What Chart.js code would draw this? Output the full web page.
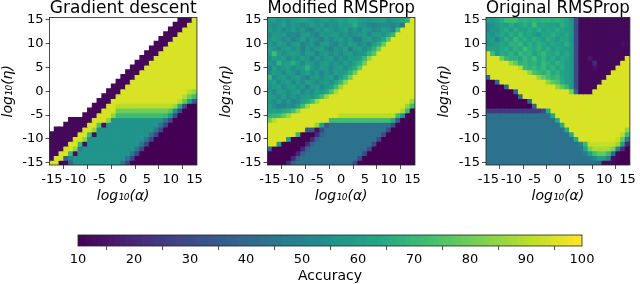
<!DOCTYPE html>
<html>
<head>
<meta charset="utf-8">
<script src="https://cdn.jsdelivr.net/npm/chart.js@4"></script>
<style>
  html, body { margin: 0; padding: 0; background: #fff; overflow: hidden; width: 640px; height: 284px; }
  canvas { position: absolute; }
</style>
</head>
<body>
<canvas id="gdChart" width="207" height="206" style="left:0;top:0"></canvas>
<canvas id="modChart" width="207" height="206" style="left:218px;top:0"></canvas>
<canvas id="origChart" width="204" height="206" style="left:436px;top:0"></canvas>
<canvas id="barChart" width="560" height="58" style="left:50px;top:226px"></canvas>
<script>
const _ = null;
const alphaLevels = [-15,-14,-13,-12,-11,-10,-9,-8,-7,-6,-5,-4,-3,-2,-1,0,1,2,3,4,5,6,7,8,9,10,11,12,13,14,15];
const etaLevels = [15,14,13,12,11,10,9,8,7,6,5,4,3,2,1,0,-1,-2,-3,-4,-5,-6,-7,-8,-9,-10,-11,-12,-13,-14,-15];
const tickValues = [-15,-10,-5,0,5,10,15];
const barTicks = [10,20,30,40,50,60,70,80,90,100];
const barLevels = [10,11,12,13,14,15,16,17,18,19,20,21,22,23,24,25,26,27,28,29,30,31,32,33,34,35,36,37,38,39,40,41,42,43,44,45,46,47,48,49,50,51,52,53,54,55,56,57,58,59,60,61,62,63,64,65,66,67,68,69,70,71,72,73,74,75,76,77,78,79,80,81,82,83,84,85,86,87,88,89,90,91,92,93,94,95,96,97,98,99,100];

// accuracy per cell, rows run from eta=15 down to eta=-15
const gradientDescent = [
[_,_,_,_,_,_,_,_,_,_,_,_,_,_,_,_,_,_,_,_,_,_,_,_,_,_,_,12,12,12,95],
[_,_,_,_,_,_,_,_,_,_,_,_,_,_,_,_,_,_,_,_,_,_,_,_,_,_,12,12,12,95,95],
[_,_,_,_,_,_,_,_,_,_,_,_,_,_,_,_,_,_,_,_,_,_,_,_,_,12,12,12,95,95,95],
[_,_,_,_,_,_,_,_,_,_,_,_,_,_,_,_,_,_,_,_,_,_,_,_,12,12,12,95,95,95,95],
[_,_,_,_,_,_,_,_,_,_,_,_,_,_,_,_,_,_,_,_,_,_,_,12,12,12,95,95,95,95,95],
[_,_,_,_,_,_,_,_,_,_,_,_,_,_,_,_,_,_,_,_,_,_,12,12,12,95,95,95,95,95,95],
[_,_,_,_,_,_,_,_,_,_,_,_,_,_,_,_,_,_,_,_,_,12,12,12,95,95,95,95,95,95,95],
[_,_,_,_,_,_,_,_,_,_,_,_,_,_,_,_,_,_,_,_,12,12,12,95,95,95,95,95,95,95,95],
[_,_,_,_,_,_,_,_,_,_,_,_,_,_,_,_,_,_,_,12,12,12,95,95,95,95,95,95,95,95,95],
[_,_,_,_,_,_,_,_,_,_,_,_,_,_,_,_,_,_,12,12,12,95,95,95,95,95,95,95,95,95,95],
[_,_,_,_,_,_,_,_,_,_,_,_,_,_,_,_,_,12,12,12,95,95,95,95,95,95,95,95,95,95,95],
[_,_,_,_,_,_,_,_,_,_,_,_,_,_,_,_,12,12,12,95,95,95,95,95,95,95,95,95,95,95,95],
[_,_,_,_,_,_,_,_,_,_,_,_,_,_,_,12,12,12,95,95,95,95,95,95,95,95,95,95,95,95,95],
[_,_,_,_,_,_,_,_,_,_,_,_,_,_,12,12,12,95,95,95,95,95,95,95,95,95,95,95,95,95,95],
[_,_,_,_,_,_,_,_,_,_,_,_,_,12,12,12,95,95,95,95,95,95,95,95,95,95,95,95,95,95,95],
[_,_,_,_,_,_,_,_,_,_,_,_,12,12,12,95,95,95,95,95,95,95,95,95,95,95,95,95,95,90,85],
[_,_,_,_,_,_,_,_,_,_,_,12,12,12,95,95,95,95,95,95,95,95,95,95,95,95,95,95,90,80,72],
[_,_,_,_,_,_,_,_,_,_,12,12,12,95,95,95,95,95,95,95,95,95,95,95,95,95,95,90,78,62,35],
[_,_,_,_,_,_,_,_,_,12,12,12,95,95,90,90,90,90,90,90,90,90,90,90,90,90,85,65,30,10,10],
[_,_,_,_,_,_,_,_,12,12,12,95,95,95,80,80,80,80,80,80,80,80,80,80,80,75,55,30,10,10,10],
[_,_,_,_,_,_,_,12,12,12,95,95,95,85,72,72,72,72,72,72,72,72,72,72,70,58,30,10,10,10,10],
[_,_,_,_,12,12,12,12,12,95,95,95,85,56,56,56,56,56,56,56,56,56,56,56,45,28,10,10,10,10,10],
[_,_,_,12,12,12,12,12,95,95,75,14,56,56,56,56,56,56,56,56,56,56,56,45,28,10,10,10,10,10,10],
[_,12,12,12,12,12,12,95,95,85,55,56,56,56,56,56,56,56,56,56,56,56,45,28,10,10,10,10,10,10,10],
[12,12,12,12,12,12,95,95,70,14,56,56,56,56,56,56,56,56,56,56,56,45,28,10,10,10,10,10,10,10,10],
[12,12,12,12,12,95,95,85,55,56,56,56,56,56,56,56,56,56,56,56,45,28,10,10,10,10,10,10,10,10,10],
[12,12,12,12,95,95,70,14,56,56,56,56,56,56,56,56,56,56,56,45,28,10,10,10,10,10,10,10,10,10,10],
[12,12,12,95,95,85,50,56,56,56,56,56,56,56,56,56,56,56,45,28,10,10,10,10,10,10,10,10,10,10,10],
[12,12,95,95,70,14,56,56,56,56,56,56,56,56,56,56,56,45,28,10,10,10,10,10,10,10,10,10,10,10,10],
[12,95,95,38,50,56,56,56,56,56,56,56,56,56,56,56,45,28,10,10,10,10,10,10,10,10,10,10,10,10,10],
[95,95,10,12,40,56,56,56,56,56,56,56,56,56,56,45,28,10,10,10,10,10,10,10,10,10,10,10,10,10,10]
];

const modifiedRmsprop = [
[58,60,55,58,54,58,60,62,60,58,55,58,60,56,58,62,60,64,64,60,58,56,58,60,60,55,58,60,62,66,95],
[56,54,56,60,54,58,55,52,56,60,55,58,52,56,55,60,58,60,66,58,55,52,50,52,54,52,50,54,46,95,95],
[58,55,58,52,56,60,54,58,52,50,58,55,60,58,54,58,60,54,58,52,60,56,52,54,60,56,50,72,95,95,95],
[52,58,56,60,52,54,50,58,60,54,50,58,56,58,60,54,58,52,55,58,60,52,58,60,56,62,70,95,95,95,95],
[55,60,58,52,58,50,54,60,52,58,54,50,58,52,58,60,54,58,50,50,58,60,54,56,64,76,95,95,95,95,95],
[58,54,60,58,52,58,60,50,54,58,50,58,60,54,50,58,54,60,58,52,56,50,60,66,78,95,95,95,95,95,95],
[60,58,52,58,60,54,58,50,58,52,58,60,54,50,58,54,60,50,58,60,54,60,68,80,95,95,95,95,95,95,95],
[58,72,60,54,58,60,58,52,60,58,50,58,60,54,58,52,58,60,54,56,58,68,76,95,95,95,95,95,95,95,95],
[54,60,58,60,52,58,54,60,58,50,58,54,58,60,52,58,54,60,58,60,70,84,95,95,95,95,95,95,95,95,95],
[58,54,68,58,60,66,58,54,60,58,52,58,60,54,58,54,60,56,62,68,80,95,95,95,95,95,95,95,95,95,95],
[50,60,54,58,60,54,58,60,68,58,54,60,58,52,58,60,54,60,66,78,95,95,95,95,95,95,95,95,95,95,95],
[54,60,58,52,60,58,50,58,60,54,58,50,58,54,60,58,60,68,80,95,95,95,95,95,95,95,95,95,95,95,95],
[70,54,58,60,54,58,60,54,50,58,60,54,58,60,52,60,68,80,95,95,95,95,95,95,95,95,95,95,95,95,95],
[58,60,54,58,60,52,58,54,60,58,52,58,60,54,62,70,84,95,95,95,95,95,95,95,95,95,95,95,95,95,95],
[54,58,60,52,58,60,54,58,50,58,60,54,58,62,72,86,95,95,95,95,95,95,95,95,95,95,95,95,95,95,95],
[58,52,60,58,54,58,60,52,58,54,60,58,64,74,88,95,95,95,95,95,95,95,95,95,95,95,95,95,95,95,95],
[60,58,54,60,52,58,54,58,60,58,64,72,86,95,95,95,95,95,95,95,95,95,95,95,95,95,95,95,95,95,95],
[58,54,60,52,58,50,54,60,64,72,86,95,95,95,95,95,95,95,95,95,95,95,95,95,95,95,95,95,95,95,85],
[60,54,50,50,54,52,60,72,86,95,95,95,95,95,95,95,95,95,95,95,95,95,95,95,95,95,95,95,95,85,72],
[60,62,60,64,66,72,84,95,95,95,95,95,95,95,95,95,95,95,95,95,95,95,95,95,95,95,95,95,88,72,10],
[68,70,72,78,86,95,95,95,95,95,95,95,95,95,95,90,90,90,90,90,90,90,90,90,90,90,90,72,55,10,10],
[80,90,95,95,95,95,95,95,95,95,95,95,95,72,72,72,72,72,72,72,72,72,72,72,72,72,65,35,10,10,10],
[95,95,95,95,95,95,95,95,95,95,85,60,35,44,44,44,44,44,44,44,44,44,44,44,44,44,30,10,10,10,10],
[95,95,95,95,95,95,95,95,36,36,14,30,44,44,44,44,44,44,44,44,44,44,44,44,44,30,10,10,10,10,10],
[95,95,95,95,95,95,70,10,10,10,20,38,44,44,44,44,44,44,44,44,44,44,44,44,30,10,10,10,10,10,10],
[95,95,95,95,60,10,10,10,10,20,38,44,44,44,44,44,44,44,44,44,44,44,44,30,10,10,10,10,10,10,10],
[95,95,60,10,10,10,10,10,20,38,44,44,44,44,44,44,44,44,44,44,44,44,30,10,10,10,10,10,10,10,10],
[42,10,10,10,10,10,10,20,38,44,44,44,44,44,44,44,44,44,44,44,44,30,10,10,10,10,10,10,10,10,10],
[10,10,10,10,10,10,20,38,44,44,44,44,44,44,44,44,44,44,44,44,30,10,10,10,10,10,10,10,10,10,10],
[10,10,10,10,10,20,38,44,44,44,44,44,44,44,44,44,44,44,44,30,10,10,10,10,10,10,10,10,10,10,10],
[10,10,10,10,20,38,44,44,44,44,44,44,44,44,44,44,44,44,30,10,10,10,10,10,10,10,10,10,10,10,10]
];

const originalRmsprop = [
[60,58,62,65,72,72,72,66,68,66,68,66,68,68,66,68,66,64,58,30,12,12,12,12,12,12,12,12,12,12,12],
[54,55,58,62,60,65,60,62,66,62,72,62,64,60,62,60,66,62,58,30,12,12,12,12,12,12,12,12,12,12,12],
[52,58,56,62,66,60,66,62,60,65,62,66,60,64,62,66,62,60,58,30,12,12,12,12,12,12,12,12,12,12,12],
[58,55,60,64,60,66,62,68,62,64,60,56,64,62,66,62,60,64,58,30,12,12,12,12,12,12,12,12,12,12,12],
[56,60,50,60,66,62,70,64,66,62,66,64,60,66,62,58,64,62,56,30,12,12,12,12,12,12,12,12,12,12,12],
[56,58,60,64,62,68,66,70,62,66,62,68,64,60,64,62,60,66,58,30,12,12,12,12,12,12,12,12,12,14,12],
[60,62,60,64,66,62,68,64,72,66,64,68,62,66,60,64,62,60,58,30,12,12,12,12,12,12,12,12,12,12,12],
[95,72,60,66,64,68,62,70,66,68,62,66,70,64,62,66,60,64,58,30,12,12,12,12,12,12,12,12,12,12,12],
[95,95,95,80,70,66,68,64,70,66,72,64,68,62,66,60,64,62,58,30,12,12,16,12,12,12,12,12,12,12,95],
[95,95,95,95,95,85,78,68,70,66,68,64,70,66,62,68,64,60,58,30,12,12,12,20,12,12,12,12,12,95,95],
[95,95,95,95,95,95,95,90,72,68,70,66,70,64,68,62,66,60,58,30,12,12,12,15,12,12,12,12,95,95,95],
[95,95,95,95,95,95,95,95,95,85,74,70,66,72,64,68,62,60,58,30,12,12,12,12,12,12,12,95,95,95,95],
[40,95,95,95,95,95,95,95,95,95,95,85,78,72,68,70,64,60,58,30,12,12,12,12,12,12,95,95,95,95,95],
[10,10,40,95,95,95,95,95,95,95,95,95,95,85,78,74,66,60,58,30,12,12,12,12,12,95,95,95,95,95,95],
[10,10,10,10,40,95,95,95,95,95,95,95,95,95,95,85,78,70,58,30,12,12,12,12,95,95,95,95,95,95,95],
[10,10,10,10,10,10,40,95,95,95,95,95,95,95,95,95,95,95,82,38,12,12,12,95,95,95,95,95,95,95,95],
[10,10,10,10,10,10,10,40,95,95,95,95,95,95,95,95,95,95,95,95,95,95,95,95,95,95,95,95,95,95,95],
[10,10,10,10,10,10,10,10,10,40,95,95,95,95,95,95,95,95,95,95,95,95,95,95,95,95,95,95,95,95,95],
[10,10,10,10,10,10,10,10,10,10,40,95,95,95,95,95,95,95,95,95,95,95,95,95,95,95,95,95,95,95,95],
[25,25,25,25,25,25,25,25,25,25,25,25,30,65,95,95,95,95,95,95,95,95,95,95,95,95,95,95,95,95,95],
[44,44,44,44,44,44,44,44,44,44,44,44,44,44,65,95,95,95,95,95,95,95,95,95,95,95,95,95,95,95,95],
[44,44,44,44,44,44,44,44,44,44,44,44,44,44,44,65,95,95,95,95,95,95,95,95,95,95,95,95,95,95,95],
[44,44,44,44,44,44,44,44,44,44,44,44,44,44,44,44,65,95,95,95,95,95,95,95,95,95,95,95,95,95,95],
[44,44,44,44,44,44,44,44,44,44,44,44,44,44,44,44,44,65,95,95,95,95,95,95,95,95,95,95,95,95,85],
[44,44,44,44,44,44,44,44,44,44,44,44,44,44,44,44,44,44,65,95,95,95,95,95,95,95,95,95,95,90,72],
[44,44,44,44,44,44,44,44,44,44,44,44,44,44,44,44,44,44,44,65,95,95,95,95,95,95,95,95,92,78,48],
[44,44,44,44,44,44,44,44,44,44,44,44,44,44,44,44,44,44,44,44,50,70,92,92,92,92,92,92,86,62,20],
[44,44,44,44,44,44,44,44,44,44,44,44,44,44,44,44,44,44,44,44,46,62,82,88,88,88,88,82,50,22,10],
[44,44,44,44,44,44,44,44,44,44,44,44,44,44,44,44,44,44,44,44,44,48,60,72,78,78,70,42,12,10,10],
[44,44,44,44,44,44,44,44,44,44,44,44,44,44,44,44,44,44,44,44,44,44,46,52,60,60,50,14,12,10,10],
[44,44,44,44,44,44,44,44,44,44,44,44,44,44,44,44,44,44,44,44,44,44,44,44,40,12,13,12,10,10,10]
];

const viridis = ['#440154','#482475','#414487','#355f8d','#2a788e','#21918c','#22a884','#44bf70','#7ad151','#bddf26','#fde725'];

function accuracyColor(v) {
  const t = Math.min(Math.max((v - 10) / 90, 0), 1) * 10;
  const i = Math.min(Math.floor(t), 9);
  const f = t - i;
  const a = parseInt(viridis[i].slice(1), 16);
  const b = parseInt(viridis[i + 1].slice(1), 16);
  const mix = s => Math.round(((a >> s) & 255) * (1 - f) + ((b >> s) & 255) * f);
  return 'rgb(' + mix(16) + ',' + mix(8) + ',' + mix(0) + ')';
}

// black box round the plot, on all four sides
const framePlugin = {
  id: 'frame',
  afterDatasetsDraw(chart) {
    const a = chart.chartArea;
    const ctx = chart.ctx;
    ctx.save();
    ctx.strokeStyle = '#222';
    ctx.lineWidth = 0.8;
    ctx.strokeRect(a.left, a.top, a.right - a.left, a.bottom - a.top);
    ctx.restore();
  }
};

const fontFamily = '"DejaVu Sans"';
const axisTitleFont = { family: fontFamily, size: 14, style: 'italic', lineHeight: 1 };
const tickFont = { family: fontFamily, size: 13, lineHeight: 1 };
const tickGrid = { display: true, drawOnChartArea: false, drawTicks: true, tickLength: 4, color: '#222', lineWidth: 0.8 };

function axisTicks(values) {
  return axis => { axis.ticks = values.map(v => ({ value: v })); };
}

function heatmap(id, title, rows, axisWidth, rightPad) {
  const datasets = rows.map((row, r) => {
    const cells = [];
    const colors = [];
    row.forEach((v, c) => {
      if (v === null) return;
      cells.push({ x: alphaLevels[c], y: [etaLevels[r] - 0.5, etaLevels[r] + 0.5] });
      colors.push(accuracyColor(v));
    });
    return { data: cells, backgroundColor: colors, barPercentage: 1, categoryPercentage: 1, grouped: false, inflateAmount: 0.5 };
  });
  return new Chart(document.getElementById(id).getContext('2d'), {
    type: 'bar',
    data: { datasets },
    plugins: [framePlugin],
    options: {
      responsive: false,
      animation: false,
      layout: { padding: { right: rightPad, left: 0, top: 0, bottom: 0 } },
      plugins: {
        legend: { display: false },
        tooltip: { enabled: false },
        title: {
          display: true,
          fullSize: false,
          text: title,
          color: '#000',
          font: { family: fontFamily, size: 17, weight: 'normal', lineHeight: 1 },
          padding: { top: 0, bottom: 0.5 }
        }
      },
      scales: {
        x: {
          type: 'linear',
          offset: false,
          min: -15.5,
          max: 15.5,
          grid: tickGrid,
          border: { display: false },
          afterBuildTicks: axisTicks(tickValues),
          afterFit: axis => { axis.height = 41; },
          ticks: { font: tickFont, color: '#000', padding: 4, maxRotation: 0, autoSkip: false, callback: v => String(v) },
          title: { display: true, text: 'log₁₀(α)', color: '#000', font: axisTitleFont, padding: { top: 0, bottom: 3 } }
        },
        y: {
          type: 'linear',
          min: -15.5,
          max: 15.5,
          grid: tickGrid,
          border: { display: false },
          afterBuildTicks: axisTicks(tickValues),
          afterFit: axis => { axis.width = axisWidth; },
          ticks: { font: tickFont, color: '#000', padding: 2, autoSkip: false, callback: v => String(v) },
          title: { display: true, text: 'log₁₀(η)', color: '#000', font: axisTitleFont, padding: { top: 1, bottom: 0 } }
        }
      }
    }
  });
}

heatmap('gdChart', 'Gradient descent', gradientDescent, 49.5, 10);
heatmap('modChart', 'Modified RMSProp', modifiedRmsprop, 49.5, 10);
heatmap('origChart', 'Original RMSProp', originalRmsprop, 50, 6);

new Chart(document.getElementById('barChart').getContext('2d'), {
  type: 'bar',
  data: {
    datasets: [{
      data: barLevels.map(v => ({ x: v, y: [0, 1] })),
      backgroundColor: barLevels.map(accuracyColor),
      barPercentage: 1,
      categoryPercentage: 1,
      inflateAmount: 0.5
    }]
  },
  plugins: [framePlugin],
  options: {
    responsive: false,
    animation: false,
    layout: { padding: { left: 28, right: 28, top: 9, bottom: 0 } },
    plugins: { legend: { display: false }, tooltip: { enabled: false } },
    scales: {
      x: {
        type: 'linear',
        offset: false,
        min: 10,
        max: 100,
        grid: tickGrid,
        border: { display: false },
        afterBuildTicks: axisTicks(barTicks),
        afterFit: axis => { axis.height = 38; },
        ticks: { font: { family: fontFamily, size: 13, lineHeight: 1 }, color: '#000', padding: 3, maxRotation: 0, autoSkip: false, callback: v => String(v) },
        title: { display: true, text: 'Accuracy', color: '#000', font: { family: fontFamily, size: 14, lineHeight: 1 }, padding: { top: 0, bottom: 1 } }
      },
      y: { display: false, min: 0, max: 1 }
    }
  }
});
</script>
</body>
</html>
